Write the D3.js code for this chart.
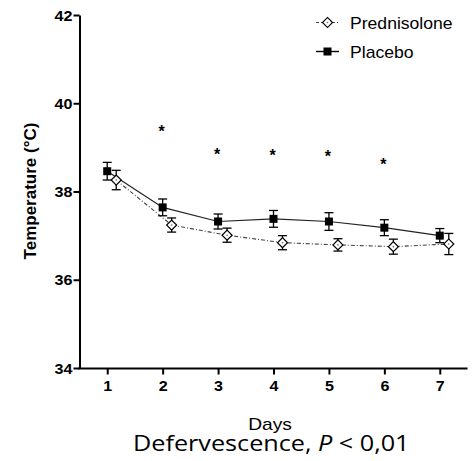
<!DOCTYPE html>
<html>
<head>
<meta charset="utf-8">
<script src="https://cdn.jsdelivr.net/npm/d3@7"></script>
<style>
  html, body { margin: 0; padding: 0; background: #fff; }
  svg { display: block; }
  text { font-family: "Liberation Sans", Arial, sans-serif; fill: #000; }
  text.caption { font-family: "Open Sans", sans-serif; }
</style>
</head>
<body>
<svg id="chart" width="474" height="461"></svg>
<script>
// Daily mean body temperature (°C) with SEM, days 1–7
const days = [1, 2, 3, 4, 5, 6, 7];
const placeboMean = [38.46, 37.64, 37.32, 37.38, 37.32, 37.18, 37.00];
const placeboErr  = [0.20, 0.19, 0.17, 0.19, 0.20, 0.18, 0.16];
const prednisoloneMean = [38.26, 37.24, 37.01, 36.84, 36.79, 36.75, 36.81];
const prednisoloneErr  = [0.22, 0.16, 0.16, 0.16, 0.14, 0.17, 0.24];
// days with a significant difference, and the height of the star marker
const starDays = [2, 3, 4, 5, 6];
const starLevel = [39.43, 38.92, 38.89, 38.87, 38.70];
const yTicks = [34, 36, 38, 40, 42];
const xTicks = [1, 2, 3, 4, 5, 6, 7];
const seriesNames = ["Prednisolone", "Placebo"];

const svg = d3.select("#chart");
const x = d3.scaleLinear().domain([0.5, 7.5]).range([79.5, 467.5]);
const y = d3.scaleLinear().domain([34, 42]).range([368, 15]);
const dodge = 9; // horizontal offset for the prednisolone markers
const SX = 1.15;  // horizontal stretch used for labels

// axes
const yAxis = svg.append("g").attr("transform", "translate(79.5,0)")
  .call(d3.axisLeft(y).tickValues(yTicks).tickSize(6).tickSizeOuter(0).tickFormat(d3.format("d")));
const xAxis = svg.append("g").attr("transform", "translate(0,368.5)")
  .call(d3.axisBottom(x).tickValues(xTicks).tickSize(6).tickSizeOuter(0).tickFormat(d3.format("d")));
[yAxis, xAxis].forEach(g => {
  g.select(".domain").attr("stroke", "#000").attr("stroke-width", 2);
  g.selectAll(".tick line").attr("stroke", "#000").attr("stroke-width", 2);
  g.selectAll(".tick text").attr("font-size", 14).attr("font-weight", "bold").attr("fill", "#000");
});
// x axis domain runs from the y axis line to the right end
xAxis.select(".domain").attr("d", `M${x(0.5) - 1},0H${x(7.5)}`);
yAxis.selectAll(".tick text").attr("x", 0).attr("dy", null)
  .attr("transform", `translate(-7,5) scale(${SX},1)`);
xAxis.selectAll(".tick text").attr("y", 0).attr("dy", null)
  .attr("transform", `translate(0,22) scale(${SX},1)`);

// axis titles
svg.append("text")
  .attr("transform", `translate(36,191) rotate(-90)`)
  .attr("text-anchor", "middle")
  .attr("font-size", 17).attr("font-weight", "bold")
  .text("Temperature (°C)");
svg.append("text")
  .attr("transform", `translate(270,430) scale(1.2,1)`)
  .attr("text-anchor", "middle")
  .attr("font-size", 16)
  .text("Days");
const caption = svg.append("text")
  .attr("class", "caption")
  .attr("transform", `translate(133,451) scale(1.2,1)`)
  .attr("font-size", 21);
caption.append("tspan").text("Defervescence, ");
caption.append("tspan").attr("font-style", "italic").text("P");
caption.append("tspan").text(" < 0,01");

// lines
const placeboLine = d3.line().x((d, i) => x(days[i])).y(d => y(d));
const predLine = d3.line().x((d, i) => x(days[i]) + dodge).y(d => y(d));
svg.append("path").attr("d", predLine(prednisoloneMean))
  .attr("fill", "none").attr("stroke", "#444").attr("stroke-width", 1.1)
  .attr("stroke-dasharray", "4,2,1,2");
svg.append("path").attr("d", placeboLine(placeboMean))
  .attr("fill", "none").attr("stroke", "#222").attr("stroke-width", 1.2);

// error bars
function errorBars(means, errs, off) {
  const g = svg.append("g").attr("stroke", "#000").attr("stroke-width", 1.3).attr("fill", "none");
  means.forEach((m, i) => {
    const cx = x(days[i]) + off;
    const y0 = y(m - errs[i]), y1 = y(m + errs[i]);
    g.append("line").attr("x1", cx).attr("x2", cx).attr("y1", y0).attr("y2", y1);
    g.append("line").attr("x1", cx - 4.5).attr("x2", cx + 4.5).attr("y1", y0).attr("y2", y0);
    g.append("line").attr("x1", cx - 4.5).attr("x2", cx + 4.5).attr("y1", y1).attr("y2", y1);
  });
}
errorBars(prednisoloneMean, prednisoloneErr, dodge);
errorBars(placeboMean, placeboErr, 0);

// markers
const diamond = d3.symbol().type(d3.symbolSquare).size(50);
function drawDiamond(cx, cy) {
  svg.append("path").attr("d", diamond())
    .attr("transform", `translate(${cx},${cy}) rotate(45)`)
    .attr("fill", "#fff").attr("stroke", "#000").attr("stroke-width", 1.2);
  svg.append("circle").attr("cx", cx).attr("cy", cy).attr("r", 0.8).attr("fill", "#666");
}
function drawSquare(cx, cy) {
  svg.append("rect").attr("x", cx - 4).attr("y", cy - 4).attr("width", 8).attr("height", 8)
    .attr("fill", "#000");
}
prednisoloneMean.forEach((m, i) => drawDiamond(x(days[i]) + dodge, y(m)));
placeboMean.forEach((m, i) => drawSquare(x(days[i]), y(m)));

// significance stars
svg.append("g").selectAll("text").data(starDays).join("text")
  .attr("x", d => x(d) - 1)
  .attr("y", (d, i) => y(starLevel[i]) + 9)
  .attr("text-anchor", "middle")
  .attr("font-size", 16).attr("font-weight", "bold")
  .text("*");

// legend
const legend = svg.append("g");
const rows = [
  { name: seriesNames[0], cy: 22.5 },
  { name: seriesNames[1], cy: 51.5 }
];
legend.append("line").attr("x1", 316).attr("x2", 339).attr("y1", rows[0].cy).attr("y2", rows[0].cy)
  .attr("stroke", "#444").attr("stroke-width", 1.1).attr("stroke-dasharray", "3,2,1,2");
legend.append("line").attr("x1", 316).attr("x2", 339).attr("y1", rows[1].cy).attr("y2", rows[1].cy)
  .attr("stroke", "#000").attr("stroke-width", 1.4);
drawDiamond(327.5, rows[0].cy);
drawSquare(327.5, rows[1].cy);
rows.forEach(r => {
  svg.append("text")
    .attr("transform", `translate(350,${r.cy + 6}) scale(1.1,1)`)
    .attr("font-size", 16)
    .text(r.name);
});
</script>
</body>
</html>
